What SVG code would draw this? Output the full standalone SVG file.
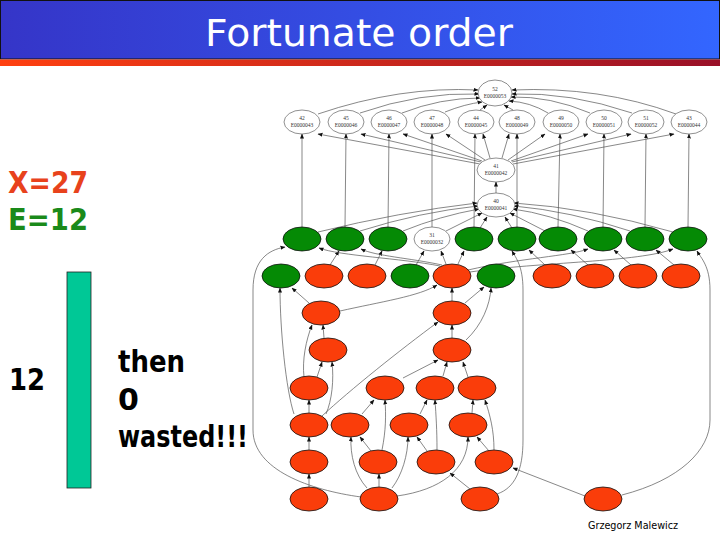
<svg xmlns="http://www.w3.org/2000/svg" width="720" height="540" viewBox="0 0 720 540">
<defs>
<linearGradient id="tb" x1="0" y1="0" x2="1" y2="0"><stop offset="0" stop-color="#3535c8"/><stop offset="1" stop-color="#3366ff"/></linearGradient>
<linearGradient id="st" x1="0" y1="0" x2="1" y2="0"><stop offset="0" stop-color="#ff4010"/><stop offset="1" stop-color="#991028"/></linearGradient>
<marker id="a" markerWidth="5" markerHeight="5" refX="4.5" refY="2.5" orient="auto" markerUnits="userSpaceOnUse"><path d="M0,0.5 L5,2.5 L0,4.5 Z" fill="#111"/></marker>
<style>
.e{fill:none;stroke:#555;stroke-width:0.7;marker-end:url(#a)}
.w{fill:#fff;stroke:#444;stroke-width:0.6}
.g{fill:#058a05;stroke:#111;stroke-width:0.8}
.r{fill:#fa3d0a;stroke:#111;stroke-width:0.8}
.t{font-family:"Liberation Serif",serif;font-size:5.5px;fill:#333;text-anchor:middle}
.big{font-family:"DejaVu Sans",sans-serif;font-size:30px;font-weight:bold}
</style>
</defs>
<rect width="720" height="540" fill="#fff"/>
<rect x="0.5" y="0.5" width="719" height="58.5" fill="url(#tb)" stroke="#111"/>
<rect x="0" y="59.5" width="720" height="6.5" fill="url(#st)"/>
<text x="359" y="46" font-family="DejaVu Sans,sans-serif" font-size="37" fill="#fff" text-anchor="middle" textLength="308" lengthAdjust="spacingAndGlyphs">Fortunate order</text>

<text x="8" y="193" class="big" fill="#e8421c" textLength="80" lengthAdjust="spacingAndGlyphs">X=27</text>
<text x="8" y="230" class="big" fill="#1a8a1a" textLength="80" lengthAdjust="spacingAndGlyphs">E=12</text>
<rect x="67" y="272" width="24" height="216" fill="#00c896" stroke="#222" stroke-width="0.8"/>
<text x="9" y="390" class="big" fill="#000" font-size="28" textLength="36" lengthAdjust="spacingAndGlyphs">12</text>
<text x="118" y="372" class="big" fill="#000" font-size="28" textLength="67" lengthAdjust="spacingAndGlyphs">then</text>
<text x="118" y="410" class="big" fill="#000" font-size="28">0</text>
<text x="118" y="447" class="big" fill="#000" font-size="28" textLength="130" lengthAdjust="spacingAndGlyphs">wasted!!!</text>
<text x="588" y="529" font-family="DejaVu Sans,sans-serif" font-size="10" fill="#000" textLength="90" lengthAdjust="spacingAndGlyphs">Grzegorz Malewicz</text>

<g id="connectors">
<path class="e" d="M318,114 Q400,86 478,90"/>
<path class="e" d="M360,113 Q420,92 479,94"/>
<path class="e" d="M402,113 Q440,98 480,98"/>
<path class="e" d="M445,112 Q465,104 482,102"/>
<path class="e" d="M480,110 L487,105"/>
<path class="e" d="M513,110 L504,105"/>
<path class="e" d="M548,113 Q530,102 509,101"/>
<path class="e" d="M590,113 Q550,96 511,97"/>
<path class="e" d="M632,113 Q570,92 512,94"/>
<path class="e" d="M676,114 Q600,86 512,90"/>
<path class="e" d="M480,164 L318,134"/>
<path class="e" d="M481,162 L361,134"/>
<path class="e" d="M482,161 L403,134"/>
<path class="e" d="M485,160 L446,134"/>
<path class="e" d="M490,158 L483,134"/>
<path class="e" d="M502,158 L509,134"/>
<path class="e" d="M508,160 L545,134"/>
<path class="e" d="M511,161 L588,134"/>
<path class="e" d="M512,162 L631,134"/>
<path class="e" d="M513,164 L674,134"/>
<path class="e" d="M302,227 L302,134"/>
<path class="e" d="M345,227 L346,134"/>
<path class="e" d="M388,227 L389,134"/>
<path class="e" d="M432,227 L432,134"/>
<path class="e" d="M474,227 L475,134"/>
<path class="e" d="M517,227 L517,134"/>
<path class="e" d="M558,227 L560,134"/>
<path class="e" d="M603,227 L604,134"/>
<path class="e" d="M645,227 L646,134"/>
<path class="e" d="M688,227 L689,134"/>
<path class="e" d="M496,193 L496,182"/>
<path class="e" d="M318,232 Q400,212 477,203"/>
<path class="e" d="M360,231 Q420,212 478,206"/>
<path class="e" d="M403,231 Q440,216 479,209"/>
<path class="e" d="M446,231 L482,213"/>
<path class="e" d="M480,228 L487,217"/>
<path class="e" d="M512,228 L505,217"/>
<path class="e" d="M545,231 L510,213"/>
<path class="e" d="M588,231 Q550,214 513,209"/>
<path class="e" d="M630,231 Q570,211 514,206"/>
<path class="e" d="M673,232 Q590,208 514,203"/>
<path class="e" d="M330,265 L339,251"/>
<path class="e" d="M375,265 L382,251"/>
<path class="e" d="M416,265 L424,251"/>
<path class="e" d="M446,264 L441,251"/>
<path class="e" d="M458,264 L464,251"/>
<path class="e" d="M440,266 C400,258 340,256 319,248"/>
<path class="e" d="M442,265 C410,258 375,256 361,249"/>
<path class="e" d="M468,270 C520,258 570,256 588,249"/>
<path class="e" d="M470,272 C540,262 640,262 673,249"/>
<path class="e" d="M545,265 L529,250"/>
<path class="e" d="M588,265 L571,250"/>
<path class="e" d="M631,265 L614,250"/>
<path class="e" d="M674,265 L656,250"/>
<path class="e" d="M497,494 C515,488 523,470 523,440 L523,290 C523,266 516,258 512,251"/>
<path class="e" d="M622,495 C680,480 710,450 710,420 L710,290 C710,266 701,258 697,251"/>
<path class="e" d="M361,497 C310,490 253,470 253,430 L253,290 C253,260 268,250 285,247"/>
<path class="e" d="M309,303 L292,288"/>
<path class="e" d="M340,311 C380,302 420,296 437,285"/>
<path class="e" d="M452,301 L452,288"/>
<path class="e" d="M465,303 L484,287"/>
<path class="e" d="M452,338 L452,325"/>
<path class="e" d="M466,340 C482,325 490,305 491,288"/>
<path class="e" d="M324,338 L323,325"/>
<path class="e" d="M304,377 C302,360 306,340 312,325"/>
<path class="e" d="M317,377 L322,362"/>
<path class="e" d="M294,414 C286,390 280,330 280,288"/>
<path class="e" d="M326,414 C332,400 334,380 332,362"/>
<path class="e" d="M322,416 C350,390 400,350 438,322"/>
<path class="e" d="M403,378 L438,360"/>
<path class="e" d="M443,376 L447,362"/>
<path class="e" d="M468,377 L463,362"/>
<path class="e" d="M309,413 L309,400"/>
<path class="e" d="M309,450 L309,437"/>
<path class="e" d="M309,487 L309,474"/>
<path class="e" d="M362,414 L374,400"/>
<path class="e" d="M382,450 C386,430 386,415 385,400"/>
<path class="e" d="M371,451 L360,437"/>
<path class="e" d="M379,487 L379,474"/>
<path class="e" d="M367,488 C355,475 350,455 351,437"/>
<path class="e" d="M392,488 C402,475 408,455 408,437"/>
<path class="e" d="M397,496 C440,490 468,470 468,437"/>
<path class="e" d="M420,414 L427,400"/>
<path class="e" d="M437,450 C437,430 436,415 435,400"/>
<path class="e" d="M427,451 L417,437"/>
<path class="e" d="M470,489 L450,473"/>
<path class="e" d="M472,413 L473,400"/>
<path class="e" d="M494,450 C494,430 490,415 485,400"/>
<path class="e" d="M489,451 L477,437"/>
<path class="e" d="M585,496 L513,468"/>
</g>

<g id="n52"><ellipse class="w" cx="495" cy="93" rx="17" ry="13"/><text class="t" x="495" y="91">52</text><text class="t" x="495" y="98">E0000053</text></g>
<g id="n42"><ellipse class="w" cx="302" cy="122" rx="18" ry="12"/><text class="t" x="302" y="120">42</text><text class="t" x="302" y="127">E0000043</text></g>
<g id="n45"><ellipse class="w" cx="346" cy="122" rx="18" ry="12"/><text class="t" x="346" y="120">45</text><text class="t" x="346" y="127">E0000046</text></g>
<g id="n46"><ellipse class="w" cx="389" cy="122" rx="18" ry="12"/><text class="t" x="389" y="120">46</text><text class="t" x="389" y="127">E0000047</text></g>
<g id="n47"><ellipse class="w" cx="432" cy="122" rx="18" ry="12"/><text class="t" x="432" y="120">47</text><text class="t" x="432" y="127">E0000048</text></g>
<g id="n44"><ellipse class="w" cx="476" cy="122" rx="18" ry="12"/><text class="t" x="476" y="120">44</text><text class="t" x="476" y="127">E0000045</text></g>
<g id="n48"><ellipse class="w" cx="517" cy="122" rx="18" ry="12"/><text class="t" x="517" y="120">48</text><text class="t" x="517" y="127">E0000049</text></g>
<g id="n49"><ellipse class="w" cx="561" cy="122" rx="18" ry="12"/><text class="t" x="561" y="120">49</text><text class="t" x="561" y="127">E0000050</text></g>
<g id="n50"><ellipse class="w" cx="604" cy="122" rx="18" ry="12"/><text class="t" x="604" y="120">50</text><text class="t" x="604" y="127">E0000051</text></g>
<g id="n51"><ellipse class="w" cx="646" cy="122" rx="18" ry="12"/><text class="t" x="646" y="120">51</text><text class="t" x="646" y="127">E0000052</text></g>
<g id="n43"><ellipse class="w" cx="689" cy="122" rx="18" ry="12"/><text class="t" x="689" y="120">43</text><text class="t" x="689" y="127">E0000044</text></g>
<g id="n41"><ellipse class="w" cx="496" cy="170" rx="19" ry="12"/><text class="t" x="496" y="168">41</text><text class="t" x="496" y="175">E0000042</text></g>
<g id="n40"><ellipse class="w" cx="496" cy="205" rx="19" ry="12"/><text class="t" x="496" y="203">40</text><text class="t" x="496" y="210">E0000041</text></g>
<g id="n31"><ellipse class="w" cx="432" cy="239" rx="18" ry="12"/><text class="t" x="432" y="237">31</text><text class="t" x="432" y="244">E0000032</text></g>

<g id="g1"><ellipse class="g" cx="302" cy="239" rx="19" ry="12"/></g>
<g id="g2"><ellipse class="g" cx="345" cy="239" rx="19" ry="12"/></g>
<g id="g3"><ellipse class="g" cx="388" cy="239" rx="19" ry="12"/></g>
<g id="g4"><ellipse class="g" cx="474" cy="239" rx="19" ry="12"/></g>
<g id="g5"><ellipse class="g" cx="517" cy="239" rx="19" ry="12"/></g>
<g id="g6"><ellipse class="g" cx="558" cy="239" rx="19" ry="12"/></g>
<g id="g7"><ellipse class="g" cx="603" cy="239" rx="19" ry="12"/></g>
<g id="g8"><ellipse class="g" cx="645" cy="239" rx="19" ry="12"/></g>
<g id="g9"><ellipse class="g" cx="688" cy="239" rx="19" ry="12"/></g>

<g id="g10"><ellipse class="g" cx="281" cy="276" rx="19" ry="12"/></g>
<g id="r1"><ellipse class="r" cx="324" cy="276" rx="19" ry="12"/></g>
<g id="r2"><ellipse class="r" cx="367" cy="276" rx="19" ry="12"/></g>
<g id="g11"><ellipse class="g" cx="410" cy="276" rx="19" ry="12"/></g>
<g id="r3"><ellipse class="r" cx="452" cy="276" rx="19" ry="12"/></g>
<g id="g12"><ellipse class="g" cx="496" cy="276" rx="19" ry="12"/></g>
<g id="r4"><ellipse class="r" cx="552" cy="276" rx="19" ry="12"/></g>
<g id="r5"><ellipse class="r" cx="595" cy="276" rx="19" ry="12"/></g>
<g id="r6"><ellipse class="r" cx="638" cy="276" rx="19" ry="12"/></g>
<g id="r7"><ellipse class="r" cx="681" cy="276" rx="19" ry="12"/></g>

<g id="r8"><ellipse class="r" cx="321" cy="313" rx="19" ry="12"/></g>
<g id="r9"><ellipse class="r" cx="452" cy="313" rx="19" ry="12"/></g>
<g id="r10"><ellipse class="r" cx="328" cy="350" rx="19" ry="12"/></g>
<g id="r11"><ellipse class="r" cx="452" cy="350" rx="19" ry="12"/></g>
<g id="r12"><ellipse class="r" cx="309" cy="388" rx="19" ry="12"/></g>
<g id="r13"><ellipse class="r" cx="385" cy="388" rx="19" ry="12"/></g>
<g id="r14"><ellipse class="r" cx="435" cy="388" rx="19" ry="12"/></g>
<g id="r15"><ellipse class="r" cx="477" cy="388" rx="19" ry="12"/></g>
<g id="r16"><ellipse class="r" cx="309" cy="425" rx="19" ry="12"/></g>
<g id="r17"><ellipse class="r" cx="350" cy="425" rx="19" ry="12"/></g>
<g id="r18"><ellipse class="r" cx="409" cy="425" rx="19" ry="12"/></g>
<g id="r19"><ellipse class="r" cx="468" cy="425" rx="19" ry="12"/></g>
<g id="r20"><ellipse class="r" cx="309" cy="462" rx="19" ry="12"/></g>
<g id="r21"><ellipse class="r" cx="378" cy="462" rx="19" ry="12"/></g>
<g id="r22"><ellipse class="r" cx="436" cy="462" rx="19" ry="12"/></g>
<g id="r23"><ellipse class="r" cx="494" cy="462" rx="19" ry="12"/></g>
<g id="r24"><ellipse class="r" cx="309" cy="499" rx="19" ry="12"/></g>
<g id="r25"><ellipse class="r" cx="379" cy="499" rx="19" ry="12"/></g>
<g id="r26"><ellipse class="r" cx="480" cy="499" rx="19" ry="12"/></g>
<g id="r27"><ellipse class="r" cx="603" cy="499" rx="19" ry="12"/></g>
</svg>
